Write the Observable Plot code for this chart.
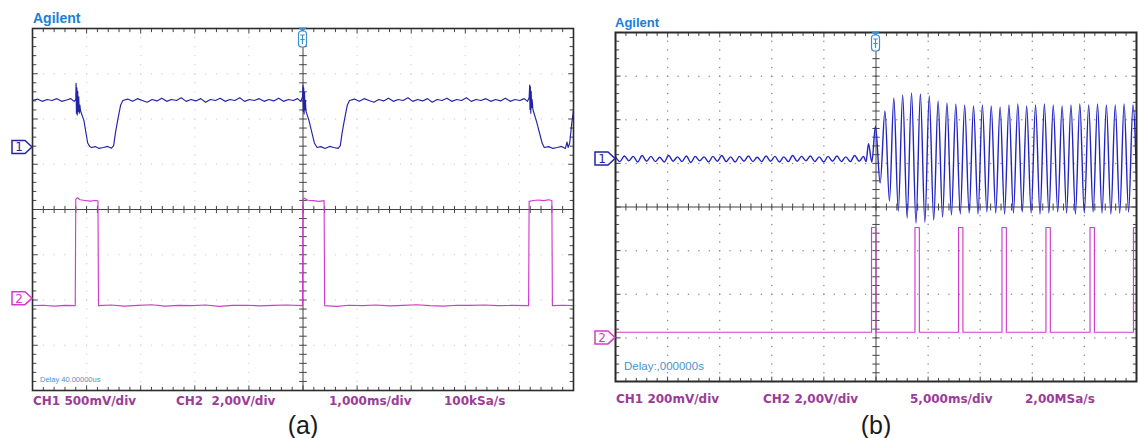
<!DOCTYPE html>
<html><head><meta charset="utf-8">
<script src="https://cdn.jsdelivr.net/npm/d3@7"></script>
<script src="https://cdn.jsdelivr.net/npm/@observablehq/plot@0.6"></script>
<style>
body{margin:0;background:#fff;}
#wrap{position:relative;width:1139px;height:438px;overflow:hidden;background:#fff;}
.abs{position:absolute;white-space:pre;line-height:1;}
.brand{font-family:"Liberation Sans",Arial,sans-serif;font-weight:bold;color:#1b7ed6;}
.lab{font-family:"DejaVu Sans",sans-serif;font-weight:bold;font-size:12px;color:#9c3c98;}
.delay{font-family:"Liberation Sans",Arial,sans-serif;color:#4b93cc;}
.cap{font-family:"Liberation Sans",Arial,sans-serif;font-size:25px;color:#1a1a1a;}
</style></head><body><div id="wrap"></div>
<script>
// ---------- panel (a) : 1 ms/div, CH1 500 mV/div, CH2 2 V/div ----------
const aSettings = ["CH1 500mV/div", "CH2  2,00V/div", "1,000ms/div", "100kSa/s"];
const aDelay = "Delay 40.00000us";
const aTimePerDiv = 1;        // ms
const aCh1PerDiv = 0.5;       // V
const aCh2PerDiv = 2;         // V
const aCh1Ground = 1.37;      // divisions from centre
const aCh2Ground = -1.97;
// CH1 trace [time ms, volts]
const aCh1 = [
[0.00,0.52],[0.09,0.535],[0.18,0.51],[0.27,0.53],[0.36,0.52],[0.45,0.54],[0.54,0.51],[0.63,0.525],[0.71,0.54],[0.77,0.51],
[0.80,0.53],[0.805,0.71],[0.812,0.38],[0.82,0.66],[0.828,0.36],[0.836,0.62],[0.845,0.40],[0.855,0.56],[0.865,0.38],[0.875,0.47],[0.89,0.40],
[0.95,0.30],[1.02,0.05],[1.06,0.01],[1.09,0.0],
[1.16,0.01],[1.23,-0.01],[1.31,0.0],[1.39,0.012],[1.46,-0.008],[1.50,0.02],
[1.53,0.15],[1.58,0.32],[1.63,0.47],[1.67,0.52],
[1.76,0.535],[1.85,0.51],[1.94,0.54],[2.03,0.52],[2.12,0.50],[2.21,0.53],[2.30,0.515],[2.39,0.545],[2.48,0.51],[2.57,0.53],[2.66,0.52],[2.75,0.55],[2.84,0.51],[2.93,0.53],[3.02,0.515],[3.11,0.54],[3.20,0.50],[3.29,0.53],[3.38,0.52],[3.47,0.545],[3.56,0.51],[3.65,0.53],[3.74,0.52],[3.83,0.55],[3.92,0.51],[4.01,0.53],[4.10,0.52],[4.19,0.54],[4.28,0.51],[4.37,0.53],[4.46,0.515],[4.55,0.545],[4.64,0.51],[4.73,0.53],[4.82,0.52],[4.90,0.54],[4.96,0.51],
[4.99,0.56],[5.00,0.69],[5.006,0.40],[5.013,0.66],[5.02,0.37],[5.028,0.61],[5.036,0.42],[5.045,0.52],[5.055,0.40],
[5.11,0.30],[5.21,0.05],[5.26,0.0],
[5.33,0.01],[5.41,-0.01],[5.49,0.012],[5.57,0.0],[5.65,-0.01],[5.69,0.02],
[5.72,0.15],[5.77,0.32],[5.82,0.47],[5.86,0.52],
[5.95,0.535],[6.04,0.51],[6.13,0.54],[6.22,0.52],[6.31,0.50],[6.40,0.53],[6.49,0.515],[6.58,0.545],[6.67,0.51],[6.76,0.53],[6.85,0.52],[6.94,0.55],[7.03,0.51],[7.12,0.53],[7.21,0.515],[7.30,0.54],[7.39,0.50],[7.48,0.53],[7.57,0.52],[7.66,0.545],[7.75,0.51],[7.84,0.53],[7.93,0.52],[8.02,0.55],[8.11,0.51],[8.20,0.53],[8.29,0.52],[8.38,0.54],[8.47,0.51],[8.56,0.53],[8.65,0.515],[8.74,0.545],[8.83,0.51],[8.92,0.53],[9.01,0.52],[9.09,0.54],[9.15,0.51],
[9.18,0.55],[9.19,0.69],[9.196,0.42],[9.203,0.67],[9.21,0.38],[9.218,0.62],[9.226,0.44],[9.235,0.53],[9.25,0.42],
[9.32,0.28],[9.42,0.05],[9.46,0.0],
[9.54,0.01],[9.62,-0.01],[9.70,0.0],[9.78,0.012],[9.85,-0.01],[9.88,0.06],[9.90,0.0],[9.93,0.05],
[9.97,0.28],[10.0,0.41]
];
// CH2 trace [time ms, volts]
const aCh2 = [
[0,-0.31],[0.2,-0.29],[0.4,-0.33],[0.6,-0.30],[0.79,-0.31],[0.80,4.40],[0.83,4.46],[0.88,4.37],[0.97,4.34],[1.07,4.31],[1.15,4.34],[1.21,4.32],[1.22,-0.31],
[1.45,-0.28],[1.70,-0.33],[1.95,-0.30],[2.20,-0.27],[2.45,-0.33],[2.70,-0.30],[2.95,-0.31],[3.20,-0.28],[3.45,-0.34],[3.70,-0.30],[3.95,-0.29],[4.20,-0.32],[4.45,-0.30],[4.70,-0.28],[4.99,-0.31],
[5.00,4.38],[5.03,4.44],[5.09,4.35],[5.19,4.33],[5.29,4.30],[5.39,4.33],[5.40,-0.31],
[5.62,-0.34],[5.85,-0.29],[6.10,-0.31],[6.35,-0.28],[6.60,-0.32],[6.85,-0.30],[7.10,-0.27],[7.35,-0.31],[7.60,-0.33],[7.85,-0.29],[8.10,-0.30],[8.35,-0.28],[8.60,-0.31],[8.85,-0.30],[9.17,-0.31],
[9.18,4.30],[9.26,4.34],[9.35,4.36],[9.45,4.33],[9.54,4.37],[9.60,4.34],[9.61,-0.31],[9.80,-0.29],[10.0,-0.31]
];

// ---------- panel (b) : 5 ms/div, CH1 200 mV/div, CH2 2 V/div ----------
const bSettings = ["CH1 200mV/div", "CH2 2,00V/div", "5,000ms/div", "2,00MSa/s"];
const bDelay = "Delay:,000000s";
const bTimePerDiv = 5;
const bCh1PerDiv = 0.2;
const bCh2PerDiv = 2;
const bCh1Ground = 1.1;
const bCh2Ground = -3.0;
// CH1 ripple before the start [time ms, volts]
const bCh1Ripple = [
[0.00,0.010],[0.43,-0.012],[0.85,0.014],[1.28,-0.008],[1.70,0.012],[2.13,-0.014],[2.55,0.016],[2.98,-0.010],[3.40,0.012],[3.83,-0.012],
[4.25,0.008],[4.68,-0.014],[5.10,0.016],[5.53,-0.010],[5.95,0.010],[6.38,-0.012],[6.80,0.014],[7.23,-0.016],[7.65,0.012],[8.08,-0.008],
[8.50,0.010],[8.93,-0.014],[9.35,0.012],[9.78,-0.010],[10.20,0.016],[10.63,-0.012],[11.05,0.010],[11.48,-0.014],[11.90,0.012],[12.33,-0.010],
[12.75,0.014],[13.18,-0.012],[13.60,0.008],[14.03,-0.012],[14.45,0.014],[14.88,-0.010],[15.30,0.012],[15.73,-0.014],[16.15,0.010],[16.58,-0.012],
[17.00,0.016],[17.43,-0.010],[17.85,0.012],[18.28,-0.008],[18.70,0.014],[19.13,-0.012],[19.55,0.010],[19.98,-0.014],[20.40,0.012],[20.83,-0.010],
[21.25,0.014],[21.68,-0.012],[22.10,0.010],[22.53,-0.012],[22.95,0.016],[23.38,-0.010],[23.80,0.012],[24.05,-0.012],[24.28,0.070],[24.60,-0.015],[24.95,0.150]
];
// CH1 oscillation peaks and troughs [time ms, volts]
const bCh1Osc = [
[25.40,-0.11],[25.86,0.220],[26.29,-0.193],[26.71,0.280],[27.14,-0.239],[27.56,0.294],[27.99,-0.271],[28.41,0.303],[28.84,-0.294],[29.26,0.298],
[29.69,-0.289],[30.11,0.289],[30.54,-0.280],[30.96,0.266],[31.39,-0.266],[31.81,0.257],[32.24,-0.257],[32.66,0.252],[33.09,-0.252],[33.51,0.248],
[33.94,-0.248],[34.36,0.243],[34.79,-0.252],[35.21,0.248],[35.64,-0.243],[36.06,0.243],[36.49,-0.248],[36.91,0.239],[37.34,-0.252],[37.76,0.248],
[38.19,-0.248],[38.61,0.252],[39.04,-0.243],[39.46,0.243],[39.89,-0.248],[40.31,0.248],[40.74,-0.252],[41.16,0.252],[41.59,-0.248],[42.01,0.248],
[42.44,-0.243],[42.86,0.243],[43.29,-0.248],[43.71,0.248],[44.14,-0.252],[44.56,0.252],[44.99,-0.248],[45.41,0.248],[45.84,-0.243],[46.26,0.252],
[46.69,-0.248],[47.11,0.248],[47.54,-0.252],[47.96,0.248],[48.39,-0.248],[48.81,0.252],[49.24,-0.243],[49.66,0.248],[50.09,-0.248]
];
// CH2 pulses
const bPulseStart = [24.57, 28.74, 32.92, 37.09, 41.31, 45.54, 49.71];
const bPulseWidth = 0.42;
const bCh2High = 5.06;
const bCh2Low = 0.26;

// ---------- colours ----------
const CH1_COLOR = "#2323a6";
const CH1B_COLOR = "#2424c0";
const CH2_COLOR = "#d03ccc";
const TRIG_COLOR = "#3d8fd0";

const wrap = document.getElementById("wrap");

function steps(a, b, step) {
  const n = Math.round((b - a) / step);
  return d3.range(n + 1).map(i => a + i * step);
}

function pulseTrace(starts, width, low, high, tEnd) {
  const pts = [[0, low]];
  for (const s of starts) {
    pts.push([s, low], [s, high], [s + width, high], [s + width, low]);
  }
  pts.push([tEnd, low]);
  return pts;
}

function scope(cfg) {
  const T = cfg.tdiv;
  const xs = steps(0, 10, 0.2);
  const ys = steps(-4, 4, 0.2);
  const gridDots = [];
  for (let i = 1; i <= 9; i++) if (i !== 5) for (const y of ys) gridDots.push([i * T, y]);
  for (let j = -3; j <= 3; j++) if (j !== 0) for (const x of xs) gridDots.push([x * T, j]);
  const hy = 0.08, hx = 0.07 * T;
  const links = [];
  for (const x of xs.slice(1, -1)) {
    const major = Math.abs(x - Math.round(x)) < 1e-6;
    const l = major ? hy * 1.4 : hy;
    links.push({x1: x * T, x2: x * T, y1: 4, y2: 4 - l});
    links.push({x1: x * T, x2: x * T, y1: -4, y2: -4 + l});
    links.push({x1: x * T, x2: x * T, y1: -hy, y2: hy});
  }
  for (const y of ys.slice(1, -1)) {
    const major = Math.abs(y - Math.round(y)) < 1e-6;
    const l = major ? hx * 1.4 : hx;
    links.push({x1: 0, x2: l, y1: y, y2: y});
    links.push({x1: 10 * T, x2: 10 * T - l, y1: y, y2: y});
    links.push({x1: 5 * T - hx, x2: 5 * T + hx, y1: y, y2: y});
  }
  const plot = Plot.plot({
    width: cfg.width, height: cfg.height,
    marginLeft: cfg.ml, marginRight: cfg.mr, marginTop: cfg.mt, marginBottom: cfg.mb,
    x: {domain: [0, 10 * T], axis: null},
    y: {domain: [-4, 4], axis: null},
    style: {background: "transparent"},
    marks: [
      Plot.dot(gridDots, {x: d => d[0], y: d => d[1], r: cfg.dotR, fill: cfg.gridColor, stroke: null}),
      Plot.ruleX([5 * T], {stroke: "#444", strokeWidth: 1}),
      Plot.ruleY([0], {stroke: "#444", strokeWidth: 1}),
      Plot.link(links, {x1: "x1", x2: "x2", y1: "y1", y2: "y2", stroke: "#444", strokeWidth: 1}),
      Plot.line(cfg.ch2, {x: d => d[0], y: d => cfg.g2 + d[1] / cfg.v2, stroke: CH2_COLOR, strokeWidth: 1.15, clip: true}),
      Plot.line(cfg.ch1, {x: d => d[0], y: d => cfg.g1 + d[1] / cfg.v1, stroke: cfg.ch1Color, strokeWidth: cfg.ch1W, curve: cfg.curve1, clip: true}),
      Plot.frame({stroke: "#2b2b2b", strokeWidth: cfg.frameW})
    ]
  });
  plot.style.position = "absolute";
  plot.style.left = cfg.left + "px";
  plot.style.top = cfg.top + "px";
  plot.style.maxWidth = "none";
  wrap.appendChild(plot);

  const sx = plot.scale("x"), sy = plot.scale("y");
  const svg = d3.select(plot);
  const x0 = sx.apply(0);
  groundMarker(svg, x0, sy.apply(cfg.g1), CH1_COLOR, "1");
  groundMarker(svg, x0, sy.apply(cfg.g2), CH2_COLOR, "2");
  trigMarker(svg, sx.apply(5 * T), sy.apply(4));
  return plot;
}

function groundMarker(svg, x0, y, color, label) {
  const g = svg.append("g");
  g.append("path")
    .attr("d", `M${x0 - 20},${y - 6.5}H${x0 - 7}L${x0},${y}L${x0 - 7},${y + 6.5}H${x0 - 20}Z`)
    .attr("fill", "white").attr("stroke", color).attr("stroke-width", 1.5);
  g.append("text").attr("x", x0 - 13).attr("y", y).attr("dy", "0.37em")
    .attr("text-anchor", "middle").attr("fill", color)
    .attr("font-family", "DejaVu Sans").attr("font-size", 12).text(label);
}

function trigMarker(svg, x, y0) {
  const g = svg.append("g").attr("stroke", TRIG_COLOR).attr("fill", "none").attr("stroke-width", 1.2);
  g.append("path").attr("d", `M${x - 3},${y0}L${x + 3},${y0}L${x},${y0 + 3}Z`).attr("fill", TRIG_COLOR);
  g.append("rect").attr("x", x - 4).attr("y", y0 + 3).attr("width", 8).attr("height", 16).attr("rx", 3).attr("fill", "white");
  g.append("path").attr("d", `M${x - 2.2},${y0 + 7}H${x + 2.2}M${x},${y0 + 7}V${y0 + 16}M${x - 2.2},${y0 + 11.5}H${x + 2.2}`);
}

function text(str, x, cy, cls, size, anchorMid) {
  const d = document.createElement("div");
  d.className = "abs " + cls;
  d.textContent = str;
  d.style.left = x + "px";
  d.style.top = cy + "px";
  if (size) d.style.fontSize = size + "px";
  d.style.transform = anchorMid ? "translate(-50%,-50%)" : "translateY(-50%)";
  wrap.appendChild(d);
}

// panel (a)
scope({
  tdiv: aTimePerDiv, v1: aCh1PerDiv, v2: aCh2PerDiv, g1: aCh1Ground, g2: aCh2Ground,
  ch1: aCh1, ch2: aCh2, curve1: "linear", ch1Color: CH1_COLOR, ch1W: 1.15,
  left: 0, top: 0, width: 580, height: 400, ml: 32, mr: 7, mt: 28, mb: 10,
  gridColor: "#d4d4d4", dotR: 0.7, frameW: 1.6
});
// panel (b)
scope({
  tdiv: bTimePerDiv, v1: bCh1PerDiv, v2: bCh2PerDiv, g1: bCh1Ground, g2: bCh2Ground,
  ch1: bCh1Ripple.concat(bCh1Osc),
  ch2: pulseTrace(bPulseStart, bPulseWidth, bCh2Low, bCh2High, 10 * bTimePerDiv),
  curve1: "monotone-x", ch1Color: CH1B_COLOR, ch1W: 1.4,
  left: 580, top: 0, width: 559, height: 390, ml: 35, mr: 3, mt: 32, mb: 9,
  gridColor: "#8a8a8a", dotR: 0.75, frameW: 2
});

// texts
text("Agilent", 33, 18, "brand", 14);
text("Agilent", 615, 22, "brand", 13);
const aX = [33, 176, 329, 444];
aSettings.forEach((s, i) => text(s, aX[i], 401, "lab"));
const bX = [616, 763, 910, 1025];
bSettings.forEach((s, i) => text(s, bX[i], 399, "lab"));
text(aDelay, 40, 380, "delay", 7.5);
text(bDelay, 624, 367, "delay", 11.5);
text("(a)", 303, 425, "cap", 0, true);
text("(b)", 876, 425, "cap", 0, true);
</script></body></html>
